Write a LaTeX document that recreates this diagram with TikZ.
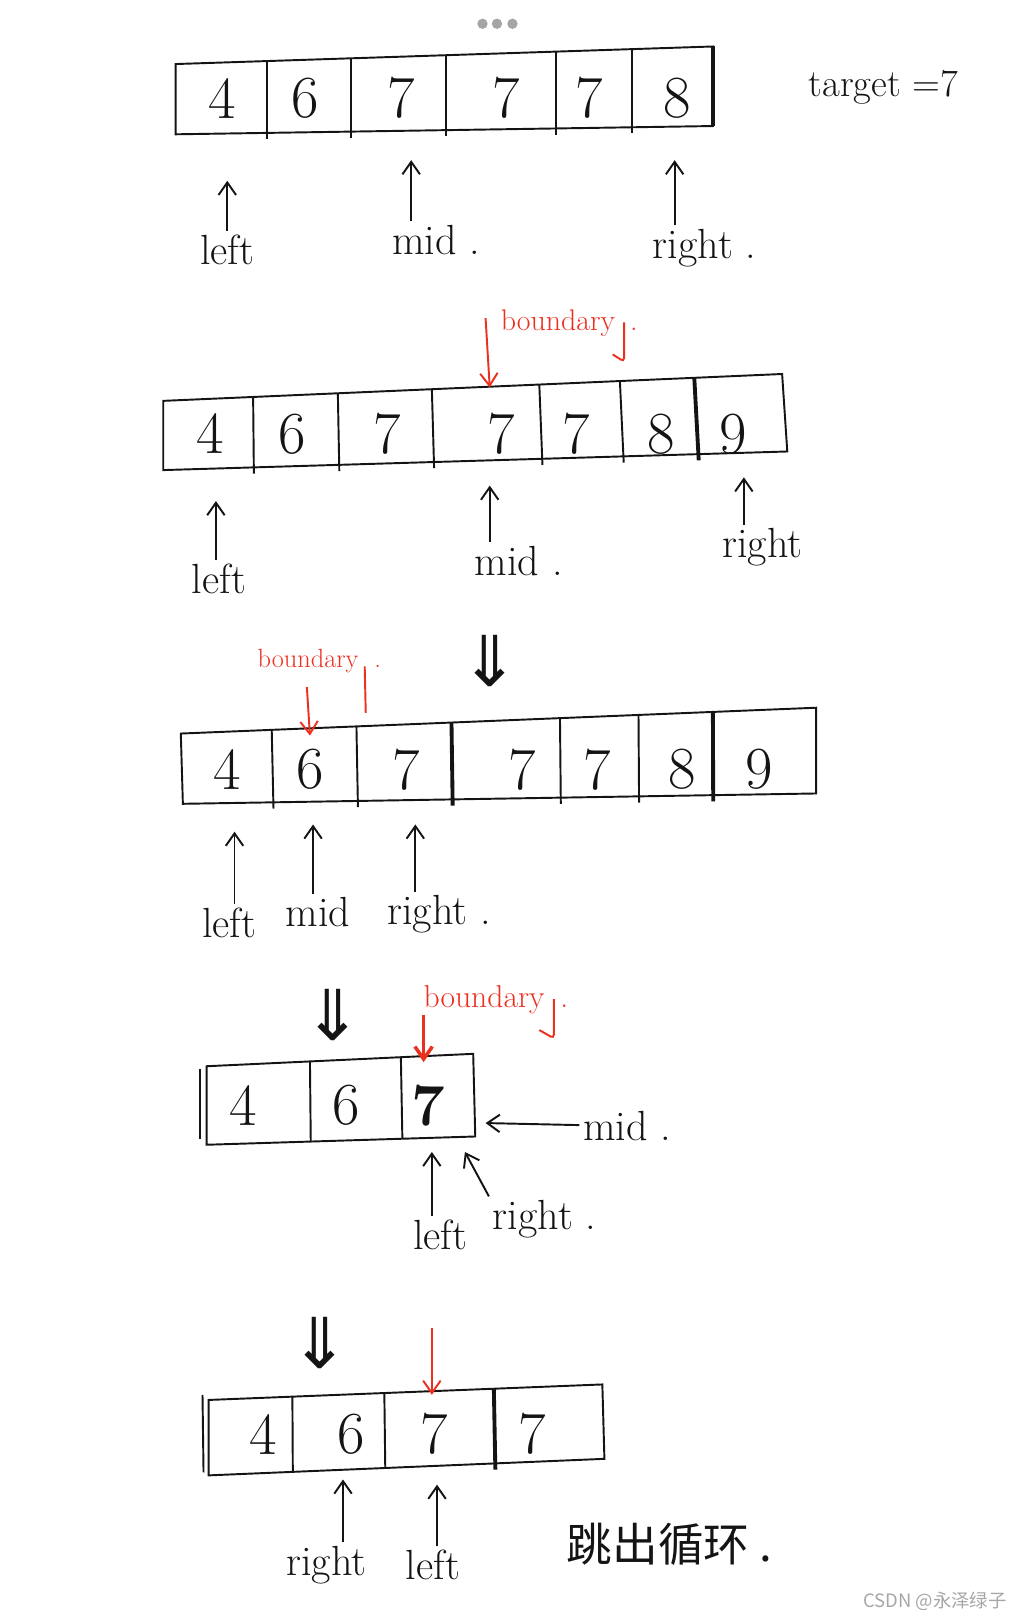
\documentclass[tikz,border=0pt]{standalone}
\usepackage{fontspec}
\usepackage{tikz}
\usetikzlibrary{arrows.meta, calc}
\newfontfamily\cjkfont{Noto Sans CJK SC}
\newfontfamily\symfont{DejaVu Sans}
\definecolor{pen}{RGB}{20,20,20}
\definecolor{redpen}{RGB}{236,48,32}
\definecolor{dotgray}{RGB}{165,165,165}

\begin{document}
\begin{tikzpicture}[
  x=0.02067cm, y=-0.02067cm,
  cellline/.style={line width=1.1pt, draw=pen},
  thickline/.style={line width=2.2pt, draw=pen},
  digit/.style={font=\fontsize{34}{36}\selectfont, text=pen},
  lbl/.style={font=\fontsize{24}{26}\selectfont, text=pen, inner sep=2pt},
  redlbl/.style={font=\fontsize{17}{19}\selectfont, text=redpen, inner sep=1pt},
  ptr/.style={-{Straight Barb[length=2.5mm, width=3.5mm]}, line width=1.1pt, draw=pen},
  redptr/.style={-{Straight Barb[length=2.5mm, width=3.5mm]}, line width=1.1pt, draw=redpen},
  hookline/.style={line width=1.1pt, draw=redpen, rounded corners=2pt},
  downsym/.style={font=\symfont\fontsize{40}{40}\selectfont, text=pen},
]
\useasboundingbox (0,0) rectangle (988,1568);

% dots at the top
\foreach \x in {467,481,496} \fill[dotgray] (\x,23) circle (5);

% Row 1
\coordinate (r1tl) at (170,62);
\coordinate (r1tr) at (690,45);
\coordinate (r1br) at (690,122);
\coordinate (r1bl) at (170,130);
\draw[cellline] (r1tl) -- (r1tr) -- (r1br) -- (r1bl) -- cycle;
\draw[thickline] (r1tr) -- (r1br);
\foreach \x in {258,340,432,538,612}
  \draw[cellline] ($(r1tl)!{(\x-170)/520}!(r1tr)$) -- ($(r1bl)!{(\x-170)/520}!(r1br)+(0,6)$);
\foreach \v/\x [count=\i] in {4/215,6/295,7/388,7/490,7/570,8/655}
  \node[digit] (c1-\i) at (\x,95) {\v};
\node[font=\fontsize{22}{24}\selectfont, text=pen] (target) at (855,85) {target =7};

\node[lbl] (left1) at (220,242) {left};
\node[lbl] (mid1) at (422,232) {mid .};
\node[lbl] (right1) at (682,240) {right .};
\coordinate (left1h) at (220,175);
\coordinate (mid1h) at (398,155);
\coordinate (right1h) at (653,155);
\draw[ptr] (left1.north -| left1h) -- (left1h);
\draw[ptr] (mid1.north -| mid1h) -- (mid1h);
\draw[ptr] (right1.north -| right1h) -- (right1h);

% Row 2
\coordinate (r2tl) at (158,388);
\coordinate (r2tr) at (757,362);
\coordinate (r2br) at (762,437);
\coordinate (r2bl) at (158,455);
\draw[cellline] (r2tl) -- (r2tr) -- (r2br) -- (r2bl) -- cycle;
\foreach \x in {245,327,418,522,600}
  \draw[cellline] ($(r2tl)!{(\x-158)/599}!(r2tr)$) -- ($(r2bl)!{(\x-158)/599}!(r2br)+(0,6)$);
\draw[thickline] ($(r2tl)!{(672-158)/599}!(r2tr)$) -- ($(r2bl)!{(672-158)/599}!(r2br)+(0,6)$);
\foreach \v/\x [count=\i] in {4/203,6/283,7/375,7/485,7/558,8/640,9/710}
  \node[digit] (c2-\i) at (\x,420) {\v};

\node[redlbl] (bound2) at (551,313) {boundary\hspace{0.5em}.};
\draw[hookline] (604,312) -- ++(0,38) -- ++(-11,-7);
\coordinate (bound2s) at (470,308);
\coordinate (bound2h) at (474,375);
\draw[redptr] (bound2s) -- (bound2h);

\node[lbl] (left2) at (212,560) {left};
\node[lbl] (mid2) at (502,543) {mid .};
\node[lbl] (right2) at (738,530) {right};
\coordinate (left2h) at (209,485);
\coordinate (mid2h) at (474,470);
\coordinate (right2h) at (720,462);
\draw[ptr] (left2.north -| left2h) -- (left2h);
\draw[ptr] (mid2.north -| mid2h) -- (mid2h);
\draw[ptr] (right2.north -| right2h) -- (right2h);

% Row 3
\node[downsym] (down3) at (474,640) {⇓};
\coordinate (r3tl) at (175,710);
\coordinate (r3tr) at (790,685);
\coordinate (r3br) at (790,768);
\coordinate (r3bl) at (177,778);
\draw[cellline] (r3tl) -- (r3tr) -- (r3br) -- (r3bl) -- cycle;
\foreach \x in {263,345,542,618}
  \draw[cellline] ($(r3tl)!{(\x-175)/615}!(r3tr)$) -- ($(r3bl)!{(\x-175)/615}!(r3br)+(0,6)$);
\foreach \x in {437,690}
  \draw[thickline] ($(r3tl)!{(\x-175)/615}!(r3tr)$) -- ($(r3bl)!{(\x-175)/615}!(r3br)+(0,6)$);
\foreach \v/\x [count=\i] in {4/220,6/300,7/393,7/505,7/578,8/660,9/735}
  \node[digit] (c3-\i) at (\x,745) {\v};

\node[redlbl, font=\fontsize{15}{17}\selectfont] (bound3) at (309,640) {boundary\hspace{0.6em}.};
\draw[hookline] (353,645) -- (354,690);
\coordinate (bound3s) at (297,665);
\coordinate (bound3h) at (300,712);
\draw[redptr] (bound3s) -- (bound3h);

\node[lbl] (left3) at (222,893) {left};
\node[lbl] (mid3) at (308,883) {mid};
\node[lbl] (right3) at (425,885) {right .};
\coordinate (left3h) at (227,805);
\coordinate (mid3h) at (303,798);
\coordinate (right3h) at (402,798);
\draw[ptr] (left3.north -| left3h) -- (left3h);
\draw[ptr] (mid3.north -| mid3h) -- (mid3h);
\draw[ptr] (right3.north -| right3h) -- (right3h);

% Row 4
\node[downsym] (down4) at (322,982) {⇓};
\coordinate (r4tl) at (200,1032);
\coordinate (r4tr) at (458,1020);
\coordinate (r4br) at (460,1100);
\coordinate (r4bl) at (200,1108);
\draw[cellline] (r4tl) -- (r4tr) -- (r4br) -- (r4bl) -- cycle;
\draw[cellline] (194,1035) -- (194,1102);
\foreach \x in {300,388}
  \draw[cellline] ($(r4tl)!{(\x-200)/258}!(r4tr)$) -- ($(r4bl)!{(\x-200)/258}!(r4br)$);
\node[digit] (c4-1) at (235,1070) {4};
\node[digit] (c4-2) at (335,1070) {6};
\node[digit, font=\bfseries\fontsize{34}{36}\selectfont] (c4-3) at (415,1070) {7};

\node[redlbl, font=\fontsize{18}{20}\selectfont] (bound4) at (480,968) {boundary\hspace{0.5em}.};
\draw[hookline] (536,967) -- ++(0,38) -- ++(-14,-8);
\coordinate (bound4s) at (410,982);
\coordinate (bound4h) at (410,1028);
\draw[redptr, line width=2pt] (bound4s) -- (bound4h);

\node[lbl] (mid4) at (607,1090) {mid .};
\node[lbl] (left4) at (426,1195) {left};
\node[lbl] (right4) at (527,1180) {right .};
\coordinate (mid4h) at (470,1087);
\coordinate (left4h) at (418,1115);
\coordinate (right4h) at (450,1115);
\draw[ptr] (mid4) -- (mid4h);
\draw[ptr] (left4.north -| left4h) -- (left4h);
\draw[ptr] (right4.north west) -- (right4h);

% Row 5
\node[downsym] (down5) at (310,1300) {⇓};
\coordinate (r5tl) at (202,1355);
\coordinate (r5tr) at (583,1340);
\coordinate (r5br) at (585,1412);
\coordinate (r5bl) at (202,1428);
\draw[cellline] (r5tl) -- (r5tr) -- (r5br) -- (r5bl) -- cycle;
\draw[cellline] (196,1350) -- (197,1425);
\foreach \x in {283,372}
  \draw[cellline] ($(r5tl)!{(\x-202)/381}!(r5tr)$) -- ($(r5bl)!{(\x-202)/381}!(r5br)$);
\draw[thickline] ($(r5tl)!{(478-202)/381}!(r5tr)$) -- ($(r5bl)!{(478-202)/381}!(r5br)+(0,6)$);
\foreach \v/\x [count=\i] in {4/255,6/340,7/420,7/515}
  \node[digit] (c5-\i) at (\x,1388) {\v};

\coordinate (bound5s) at (418,1285);
\coordinate (bound5h) at (418,1350);
\draw[redptr] (bound5s) -- (bound5h);

\node[lbl] (right5) at (316,1515) {right};
\node[lbl] (left5) at (419,1515) {left};
\coordinate (right5h) at (332,1432);
\coordinate (left5h) at (423,1437);
\draw[ptr] (right5.north -| right5h) -- (right5h);
\draw[ptr] (left5.north -| left5h) -- (left5h);

\node[font=\cjkfont\fontsize{26}{28}\selectfont, text=pen] (note) at (648,1495) {跳出循环 .};

% watermark
\node[font=\cjkfont\fontsize{10.5}{12}\selectfont, text=gray!70] (wm) at (905,1550) {CSDN @永泽绿子};

\end{tikzpicture}
\end{document}
